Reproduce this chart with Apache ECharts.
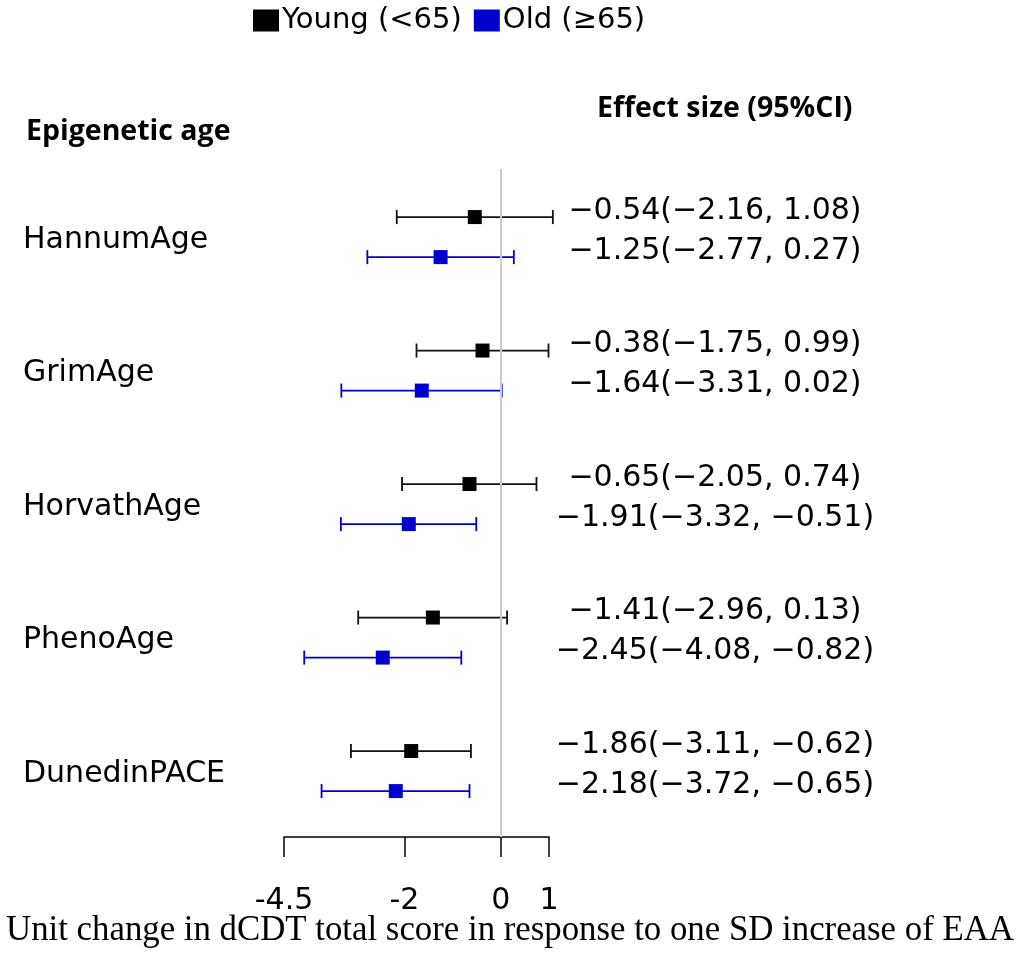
<!DOCTYPE html>
<html>
<head>
<meta charset="utf-8">
<script src="https://cdn.jsdelivr.net/npm/echarts@6/dist/echarts.min.js"></script>
<style>
html,body{margin:0;padding:0;background:#fff;}
#chart{width:1020px;height:957px;}
</style>
</head>
<body>
<div id="chart"></div>
<script>
// ---- data ----
const groups = ['HannumAge', 'GrimAge', 'HorvathAge', 'PhenoAge', 'DunedinPACE'];
const youngEst  = [-0.54, -0.38, -0.65, -1.41, -1.86];
const youngLow  = [-2.16, -1.75, -2.05, -2.96, -3.11];
const youngHigh = [ 1.08,  0.99,  0.74,  0.13, -0.62];
const oldEst    = [-1.25, -1.64, -1.91, -2.45, -2.18];
const oldLow    = [-2.77, -3.31, -3.32, -4.08, -3.72];
const oldHigh   = [ 0.27,  0.02, -0.51, -0.82, -0.65];
const xTicks = [-4.5, -2, 0, 1];
const seriesNames = ['Young (<65)', 'Old (\u226565)'];

// ---- layout helpers ----
const ROW_STEP = 10, OLD_OFF = 3;
const BLACK = '#000000', BLUE = '#0000CC';
const SANS = 'DejaVu Sans';

function fmt(v) { return v.toFixed(2).replace('-', '\u2212'); }

function ciSeries(name, low, high, off, color) {
  return {
    type: 'custom', name: name, z: 2, silent: true, clip: false,
    encode: { x: [0, 1], y: 2 },
    data: low.map((l, i) => [l, high[i], ROW_STEP * i + off]),
    renderItem: function (params, api) {
      const y = api.value(2);
      const a = api.coord([api.value(0), y]);
      const b = api.coord([api.value(1), y]);
      const h = 7;
      const st = { stroke: color, lineWidth: 1.8 };
      return { type: 'group', children: [
        { type: 'line', shape: { x1: a[0], y1: a[1], x2: b[0], y2: b[1] }, style: st },
        { type: 'line', shape: { x1: a[0], y1: a[1] - h, x2: a[0], y2: a[1] + h }, style: st },
        { type: 'line', shape: { x1: b[0], y1: b[1] - h, x2: b[0], y2: b[1] + h }, style: st }
      ]};
    }
  };
}

function pointSeries(name, est, off, color) {
  return {
    type: 'scatter', name: name, z: 3, symbol: 'rect', symbolSize: 14,
    itemStyle: { color: color, opacity: 1 },
    data: est.map((e, i) => [e, ROW_STEP * i + off])
  };
}

function effectTextSeries(name, est, low, high, off) {
  return {
    type: 'custom', name: name, z: 4, silent: true, clip: false,
    encode: { x: 0, y: 1 },
    data: est.map((e, i) => [e, ROW_STEP * i + off, i]),
    renderItem: function (params, api) {
      const i = api.value(2);
      const p = api.coord([0, api.value(1)]);
      return { type: 'text', x: 715, y: p[1] - 6, style: {
        text: fmt(est[i]) + '(' + fmt(low[i]) + ', ' + fmt(high[i]) + ')',
        align: 'center', verticalAlign: 'middle',
        fontFamily: SANS, fontSize: 30, fill: '#000'
      }};
    }
  };
}

const labelSeries = {
  type: 'custom', name: 'labels', z: 4, silent: true, clip: false,
  encode: { x: 0, y: 1 },
  data: groups.map((g, i) => [0, ROW_STEP * i + OLD_OFF / 2, i]),
  renderItem: function (params, api) {
    const i = api.value(2);
    const p = api.coord([0, api.value(1)]);
    return { type: 'text', x: 23, y: p[1] + 3, style: {
      text: groups[i], align: 'left', verticalAlign: 'middle',
      fontFamily: SANS, fontSize: 30, fill: '#000'
    }};
  }
};

const chart = echarts.init(document.getElementById('chart'), null, { renderer: 'canvas' });
chart.setOption({
  animation: false,
  backgroundColor: '#ffffff',
  legend: {
    data: seriesNames.map(n => ({ name: n, icon: 'rect' })),
    left: 253, top: 6, padding: 0,
    itemWidth: 26, itemHeight: 22, itemGap: 12,
    selectedMode: false,
    textStyle: { fontFamily: SANS, fontSize: 29, color: '#000', padding: [2, 0, 0, -2] }
  },
  graphic: [
    { type: 'text', left: 26, top: 117, style: { text: 'Epigenetic age', fontFamily: 'Open Sans', fontWeight: 'bold', fontSize: 28.5, fill: '#000' } },
    { type: 'text', left: 597, top: 94, style: { text: 'Effect size (95%CI)', fontFamily: 'Open Sans', fontWeight: 'bold', fontSize: 28.5, fill: '#000' } },
    { type: 'text', x: 510, y: 931, style: { text: 'Unit change in dCDT total score in response to one SD increase of EAA', fontFamily: 'Liberation Serif', fontSize: 34.8, fill: '#000', align: 'center', verticalAlign: 'middle' } }
  ],
  grid: { left: 284, width: 265, top: 169, height: 668, containLabel: false },
  xAxis: {
    type: 'value', min: -4.5, max: 1, position: 'bottom',
    splitLine: { show: false },
    axisLine: { show: true, onZero: false, lineStyle: { color: '#000', width: 1.5 } },
    axisTick: { show: true, inside: false, length: 20, customValues: xTicks, lineStyle: { color: '#000', width: 1.5 } },
    axisLabel: { show: true, customValues: xTicks, margin: 49, fontFamily: SANS, fontSize: 30, color: '#000', formatter: v => String(v) }
  },
  yAxis: {
    type: 'value', inverse: true, min: -3.6, max: 46.44,
    show: false, splitLine: { show: false }
  },
  series: [
    Object.assign(ciSeries('Young CI', youngLow, youngHigh, 0, '#111'), {
      markLine: { silent: true, symbol: ['none', 'none'], label: { show: false },
        lineStyle: { color: '#cccccc', width: 2, type: 'solid' }, data: [{ xAxis: 0 }] }
    }),
    ciSeries('Old CI', oldLow, oldHigh, OLD_OFF, BLUE),
    pointSeries(seriesNames[0], youngEst, 0, BLACK),
    pointSeries(seriesNames[1], oldEst, OLD_OFF, BLUE),
    effectTextSeries('Young text', youngEst, youngLow, youngHigh, 0),
    effectTextSeries('Old text', oldEst, oldLow, oldHigh, OLD_OFF),
    labelSeries
  ]
});
</script>
</body>
</html>
